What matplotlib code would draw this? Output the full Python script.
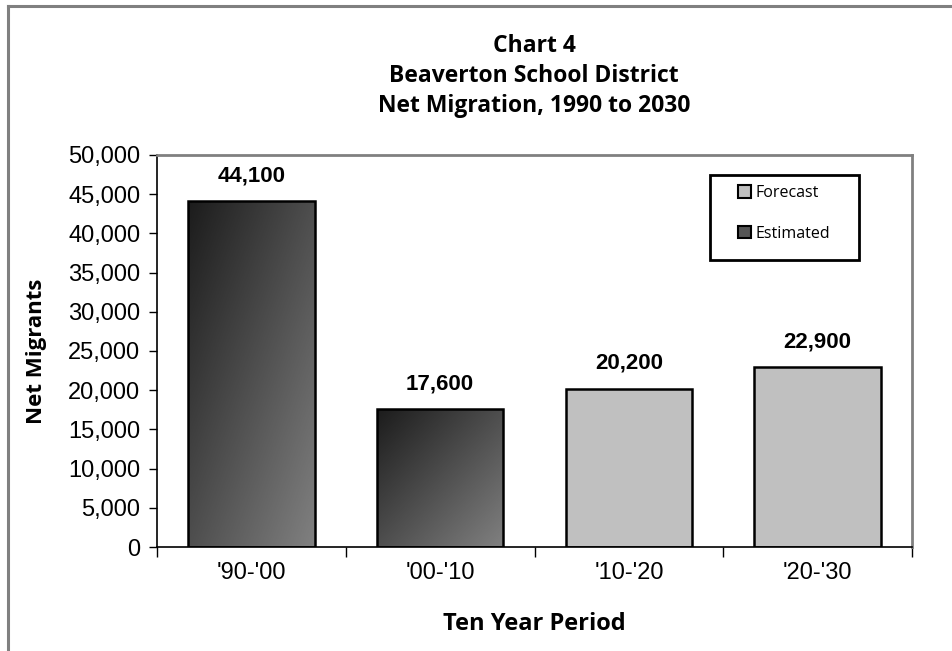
import numpy as np
import matplotlib
matplotlib.use("Agg")
import matplotlib.pyplot as plt
from matplotlib.patches import Rectangle, Patch
from matplotlib.lines import Line2D
from matplotlib.ticker import FuncFormatter, FixedLocator

periods = ["'90-'00", "'00-'10", "'10-'20", "'20-'30"]
migrants = [44100, 17600, 20200, 22900]
status = ["Estimated", "Estimated", "Forecast", "Forecast"]

LIGHT = "#C0C0C0"
BORDER = "#808080"
BAR_W = 0.67

fig = plt.figure(figsize=(9.52, 6.51), dpi=100)
fig.patch.set_facecolor("white")

# outer chart border (top + left visible)
fig.add_artist(Line2D([8 / 952, 8 / 952], [0, 1 - 6 / 651], color=BORDER, lw=2.2,
                      transform=fig.transFigure))
fig.add_artist(Line2D([8 / 952, 1], [1 - 6 / 651, 1 - 6 / 651], color=BORDER, lw=2.2,
                      transform=fig.transFigure))

ax = fig.add_axes([157 / 952, 1 - 547 / 651, 755 / 952, 392 / 651])
x = np.arange(len(periods))

# gradient image for the estimated bars (dark top-left -> lighter bottom-right)
gy, gx = np.mgrid[0:1:100j, 0:1:100j]
grad = (gx + gy) / 2.0
cmap = matplotlib.colors.LinearSegmentedColormap.from_list("g", ["#1c1c1c", "#808080"])

for xi, val, st in zip(x, migrants, status):
    if st == "Forecast":
        bar = ax.bar(xi, val, width=BAR_W, color=LIGHT, edgecolor="black", linewidth=1.8, zorder=2)
    else:
        bar = ax.bar(xi, val, width=BAR_W, color="none", edgecolor="black", linewidth=1.8, zorder=3)
        rect = bar.patches[0]
        im = ax.imshow(grad, cmap=cmap, aspect="auto", origin="upper",
                       extent=[xi - BAR_W / 2, xi + BAR_W / 2, 0, val], zorder=2)
        im.set_clip_path(rect)
    ax.text(xi, val + 1900, f"{val:,}", ha="center", va="bottom", fontsize=16,
            fontweight="bold", family="Liberation Sans")

ax.set_xlim(-0.5, 3.5)
ax.set_ylim(0, 50000)
ax.set_yticks(np.arange(0, 50001, 5000))
ax.yaxis.set_major_formatter(FuncFormatter(lambda v, p: f"{int(v):,}"))
ax.set_xticks(x)
ax.set_xticklabels(periods)
ax.xaxis.set_minor_locator(FixedLocator(np.arange(-0.5, 3.6, 1)))
ax.tick_params(axis="x", which="major", length=0, pad=11)
ax.tick_params(axis="x", which="minor", length=7, width=1, direction="out")
ax.tick_params(axis="y", length=6, width=1, direction="out", pad=6)
for lab in ax.get_xticklabels() + ax.get_yticklabels():
    lab.set_family("Liberation Sans")
    lab.set_fontsize(17)

for side in ("left", "bottom"):
    ax.spines[side].set_color("black")
    ax.spines[side].set_linewidth(1.2)
for side in ("top", "right"):
    ax.spines[side].set_color(BORDER)
    ax.spines[side].set_linewidth(2)

ax.set_ylabel("Net Migrants", fontsize=16, fontweight="bold", family="Open Sans", va="center")
ax.yaxis.set_label_coords((36 - 157) / 755, 0.5)
ax.set_xlabel("Ten Year Period", fontsize=17, fontweight="bold", family="Open Sans", va="center")
ax.xaxis.set_label_coords(0.5, (547 - 624) / 392)

fig.text(534 / 952, 1 - 76 / 651, "Chart 4\nBeaverton School District\nNet Migration, 1990 to 2030",
         ha="center", va="center", fontsize=16.5, fontweight="bold", family="Open Sans",
         linespacing=1.35)

handles = [
    Patch(facecolor=LIGHT, edgecolor="black", linewidth=1.5, label="Forecast"),
    Patch(facecolor="#555555", edgecolor="black", linewidth=1.5, label="Estimated"),
]
leg = ax.legend(handles=handles, loc="upper left", bbox_to_anchor=((738 - 157) / 755, 1 - 30 / 392),
                frameon=False, prop={"family": "Open Sans", "size": 11.5},
                handlelength=0.8, handleheight=0.8, handletextpad=0.3, labelspacing=1.55,
                borderpad=0, borderaxespad=0)
# legend frame drawn separately (wider than its content)
ax.add_patch(Rectangle(((710 - 157) / 755, (547 - 260) / 392), 149 / 755, 85 / 392,
                       transform=ax.transAxes, facecolor="none", edgecolor="black",
                       linewidth=2, zorder=5))

fig.savefig("out.png", dpi=100, facecolor="white")
